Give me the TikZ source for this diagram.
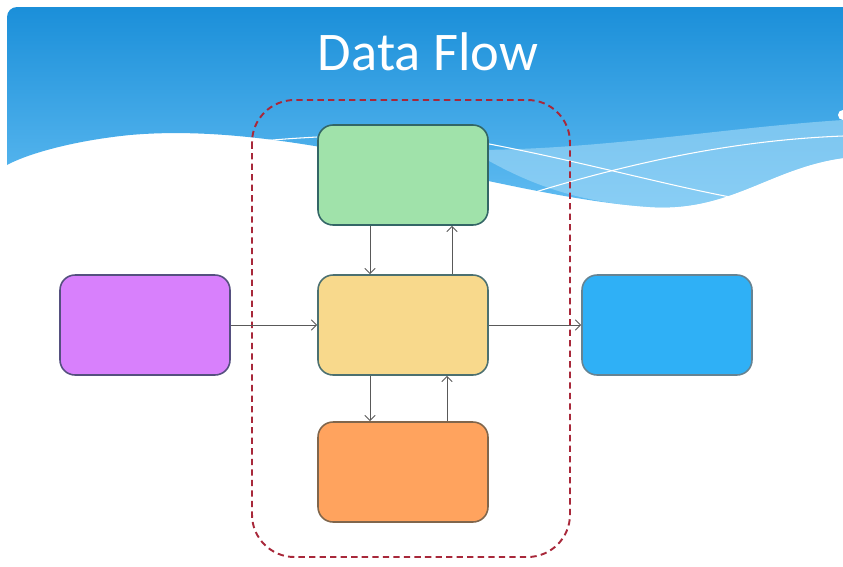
\documentclass[tikz,border=0pt]{standalone}
\usepackage{fontspec}
\setmainfont{Carlito}
\usepackage{xcolor}
\usetikzlibrary{arrows.meta}

\definecolor{skytop}{HTML}{1B8FD9}
\definecolor{skybot}{HTML}{62BDF2}
\definecolor{skylite}{HTML}{A4DAF7}
\definecolor{boxgreen}{HTML}{A0E2AA}
\definecolor{boxyellow}{HTML}{F8D98C}
\definecolor{boxorange}{HTML}{FFA35E}
\definecolor{boxviolet}{HTML}{D880FC}
\definecolor{boxblue}{HTML}{2FB0F6}
\definecolor{dashred}{HTML}{A8283A}
\definecolor{edgeviolet}{HTML}{55507F}

\begin{document}
\begin{tikzpicture}[x=0.02cm, y=-0.02cm,
    block/.style={draw, line width=0.9pt, rounded corners=0.3cm,
        minimum width=3.4cm, minimum height=2cm},
    flow/.style={-{Straight Barb[length=3pt, width=6pt]}, draw=black!65, line width=0.5pt}]
        \useasboundingbox (0,0) rectangle (843,566);
        % header with the wavy lower edge
        \shade[top color=skytop, bottom color=skybot]
            (7,165) [rounded corners=0.2cm]-- (7,7) [sharp corners]-- (843,7) -- (843,158)
            .. controls (770,168) and (730,212) .. (650,207)
            .. controls (500,197) and (300,120) .. (130,135)
            .. controls (70,141) and (25,155) .. (7,165) -- cycle;
        \fill[skylite, opacity=0.6]
            (470,150) .. controls (600,150) and (720,128) .. (843,120) -- (843,158)
            .. controls (770,168) and (730,212) .. (650,207)
            .. controls (570,202) and (520,180) .. (470,150) -- cycle;
        \draw[white, line width=0.6pt] (484,143) .. controls (600,165) and (700,195) .. (774,204);
        \draw[white, line width=0.6pt] (532,193) .. controls (640,160) and (740,140) .. (843,136);
        \draw[white, line width=0.6pt] (253,142) .. controls (280,139) and (300,138) .. (317,137);
        \fill[white] (843,115) circle[radius=5];
        \node[white, font=\fontsize{31}{36}\selectfont] (title) at (428,52) {Data Flow};

        % process group
        \draw[dashred, line width=1.1pt, dash pattern=on 3.6pt off 2.4pt, rounded corners=0.85cm]
            (252,100) rectangle (570,557);

        \node[block, fill=boxgreen, draw=teal!50!black!80] (store) at (403,175) {};
        \node[block, fill=boxyellow, draw=teal!40!black!70] (proc) at (403,325) {};
        \node[block, fill=boxorange, draw=brown!50!black!80] (db) at (403,472) {};
        \node[block, fill=boxviolet, draw=edgeviolet] (src) at (145,325) {};
        \node[block, fill=boxblue, draw=cyan!40!black!80] (dst) at (667,325) {};

        \draw[flow] (src)--(proc);
        \draw[flow] (proc)--(dst);
        \draw[flow] ([xshift=-0.66cm]store.south)--([xshift=-0.66cm]proc.north);
        \draw[flow] ([xshift=0.98cm]proc.north)--([xshift=0.98cm]store.south);
        \draw[flow] ([xshift=-0.66cm]proc.south)--([xshift=-0.66cm]db.north);
        \draw[flow] ([xshift=0.88cm]db.north)--([xshift=0.88cm]proc.south);
        \end{tikzpicture}
\end{document}
